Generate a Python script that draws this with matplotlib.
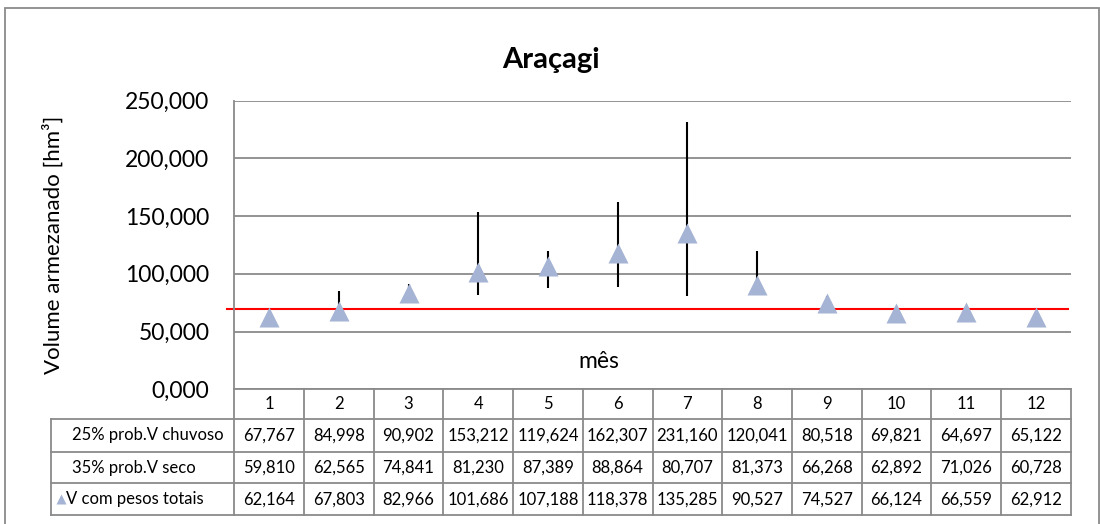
import matplotlib.pyplot as plt
from matplotlib import transforms
from matplotlib.patches import Rectangle

# data (hm³)
months = [1, 2, 3, 4, 5, 6, 7, 8, 9, 10, 11, 12]
v_chuvoso = [67.767, 84.998, 90.902, 153.212, 119.624, 162.307, 231.160, 120.041, 80.518, 69.821, 64.697, 65.122]
v_seco = [59.810, 62.565, 74.841, 81.230, 87.389, 88.864, 80.707, 81.373, 66.268, 62.892, 71.026, 60.728]
v_total = [62.164, 67.803, 82.966, 101.686, 107.188, 118.378, 135.285, 90.527, 74.527, 66.124, 66.559, 62.912]
row_labels = ['25% prob.V chuvoso', '35% prob.V seco', 'V com pesos totais']
limite = 69.1
yticks = [0, 50, 100, 150, 200, 250]

plt.rcParams['font.family'] = ['Lato', 'DejaVu Sans']

W, H = 1100, 524
GRID = '#8a8a8a'
MARK = '#a5b4d4'
TFS = 12  # table font size

def fmt(v):
    return f"{v:.3f}".replace('.', ',')

fig = plt.figure(figsize=(W / 100, H / 100), dpi=100)

# plot area in pixels
left, right, top, bottom = 234.3, 1070.7, 100.7, 389.2
ax = fig.add_axes([left / W, 1 - bottom / H, (right - left) / W, (bottom - top) / H])
colw = (right - left) / 12

def xd(p):
    return 0.5 + (p - left) / colw

def ya(p):
    return (bottom - p) / (bottom - top)

ax.set_xlim(0.5, 12.5)
ax.set_ylim(0, 250)
ax.set_yticks(yticks)
ax.set_yticklabels([fmt(t) for t in yticks], fontsize=16.5)
ax.set_xticks([])
ax.tick_params(axis='y', length=0, pad=18)
ax.yaxis.grid(True, color=GRID, lw=1.3)
ax.set_axisbelow(True)
for s in ['top', 'right']:
    ax.spines[s].set_visible(False)
for s in ['left', 'bottom']:
    ax.spines[s].set_color(GRID)
    ax.spines[s].set_linewidth(1.3)

# error bars between dry and wet scenario, triangles on top
ax.vlines(months, v_seco, v_chuvoso, color='black', lw=1.5, zorder=3)
ax.plot([xd(227), xd(1068)], [limite, limite], color='#ff0000', lw=1.5, clip_on=False, zorder=2)
ax.plot(months, v_total, '^', ms=15, color=MARK, mec='none', zorder=4)

ax.set_ylabel('Volume armezanado [hm³]', fontsize=16)
ax.yaxis.label.set_va('center')
ax.yaxis.set_label_coords(53 / W, 1 - 245 / H, transform=fig.transFigure)
fig.text(599 / W, 1 - 361 / H, 'mês', fontsize=16.5, ha='center', va='center')
fig.text(551 / W, 1 - 68 / H, 'Araçagi', fontsize=21, fontweight='bold', ha='center', va='baseline')

# data table below the axis
tr = transforms.blended_transform_factory(ax.transData, ax.transAxes)
row_y = [389.2, 419.0, 451.7, 483.3, 515.0]
lab_left = 50.7
kw = dict(color=GRID, lw=1.3, transform=tr, clip_on=False)
for i in range(13):
    ax.plot([0.5 + i, 0.5 + i], [ya(row_y[0]), ya(row_y[-1])], **kw)
ax.plot([xd(lab_left), xd(lab_left)], [ya(row_y[1]), ya(row_y[-1])], **kw)
for p in row_y[1:]:
    ax.plot([xd(lab_left), 12.5], [ya(p), ya(p)], **kw)

hy = ya((row_y[0] + row_y[1]) / 2)
for m in months:
    ax.text(m, hy, str(m), fontsize=TFS, ha='center', va='center', transform=tr)

rows = [v_chuvoso, v_seco, v_total]
for r, vals in enumerate(rows):
    cy = ya((row_y[r + 1] + row_y[r + 2]) / 2)
    for m, v in zip(months, vals):
        ax.text(m, cy, fmt(v), fontsize=TFS, ha='center', va='center', transform=tr)
    lx = 72 if r < 2 else 66
    ax.text(xd(lx), cy, row_labels[r], fontsize=12, ha='left', va='center', transform=tr)
    if r == 2:
        ax.plot([xd(61)], [cy], '^', ms=7, color=MARK, mec='none', transform=tr, clip_on=False)

# chart border
fig.patches.append(Rectangle((5 / W, -0.05), 1094 / W, 1 - 8 / H + 0.05, transform=fig.transFigure,
                             fill=False, edgecolor=GRID, lw=1.3))

fig.savefig('out.png', dpi=100)
